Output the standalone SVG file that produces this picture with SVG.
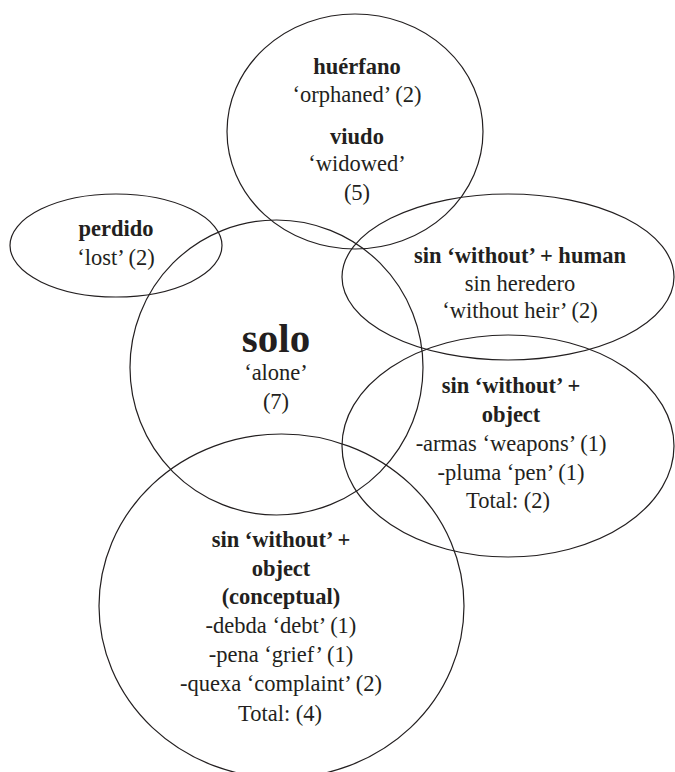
<svg xmlns="http://www.w3.org/2000/svg" width="675" height="772" viewBox="0 0 675 772">
<style>
.c{fill:none;stroke:#231f20;stroke-width:1.2}
text{font-family:"Liberation Serif","Times New Roman",serif;font-size:22.5px;fill:#231f20;text-anchor:middle}
.b{font-weight:bold}
.big{font-size:41px;font-weight:bold}
</style>
<rect width="675" height="772" fill="#fff"/>
<g id="huerfano-viudo">
<ellipse class="c" cx="355" cy="131.5" rx="128" ry="117.5"/>
<text class="b" x="357" y="74">huérfano</text>
<text x="357" y="102">‘orphaned’ (2)</text>
<text class="b" x="357" y="144">viudo</text>
<text x="357" y="171">‘widowed’</text>
<text x="357" y="200">(5)</text>
</g>
<g id="perdido">
<ellipse class="c" cx="116" cy="245.5" rx="106" ry="51.5"/>
<text class="b" x="116" y="236">perdido</text>
<text x="116" y="265">‘lost’ (2)</text>
</g>
<g id="solo">
<ellipse class="c" cx="276.5" cy="367.5" rx="146.5" ry="147.5"/>
<text class="big" x="276" y="352">solo</text>
<text x="276" y="380">‘alone’</text>
<text x="276" y="409">(7)</text>
</g>
<g id="sin-human">
<ellipse class="c" cx="508" cy="277" rx="166" ry="83"/>
<text class="b" x="520" y="263">sin ‘without’ + human</text>
<text x="520" y="291">sin heredero</text>
<text x="520" y="318">‘without heir’ (2)</text>
</g>
<g id="sin-object">
<ellipse class="c" cx="508" cy="446" rx="166" ry="111"/>
<text class="b" x="511" y="393">sin ‘without’ +</text>
<text class="b" x="511" y="422">object</text>
<text x="511" y="451">-armas ‘weapons’ (1)</text>
<text x="511" y="480">-pluma ‘pen’ (1)</text>
<text x="508" y="508">Total: (2)</text>
</g>
<g id="sin-object-conceptual">
<ellipse class="c" cx="281.5" cy="606" rx="182.5" ry="172"/>
<text class="b" x="281" y="547">sin ‘without’ +</text>
<text class="b" x="281" y="576">object</text>
<text class="b" x="281" y="604">(conceptual)</text>
<text x="281" y="633">-debda ‘debt’ (1)</text>
<text x="281" y="662">-pena ‘grief’ (1)</text>
<text x="281" y="691">-quexa ‘complaint’ (2)</text>
<text x="280" y="721">Total: (4)</text>
</g>
</svg>
